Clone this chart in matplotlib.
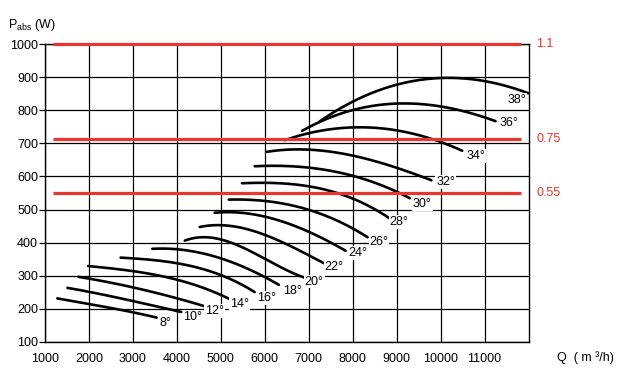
import numpy as np
import matplotlib
matplotlib.use("Agg")
import matplotlib.pyplot as plt

plt.rcParams['font.family'] = ['Liberation Sans', 'DejaVu Sans']
plt.rcParams['mathtext.fontset'] = 'custom'
plt.rcParams['mathtext.rm'] = 'Liberation Sans'
plt.rcParams['mathtext.it'] = 'Liberation Sans'

# blade angle curves: flow Q (m3/h) and absorbed power P (W)
angles = ["8°", "10°", "12°", "14°", "16°", "18°", "20°", "22°", "24°",
          "26°", "28°", "30°", "32°", "34°", "36°", "38°"]
curve_q = [
    [1280, 2000, 3000, 3540],
    [1510, 2000, 3000, 4100],
    [1760, 2000, 3000, 4000, 4670],
    [1980, 3000, 4000, 5000, 5200],
    [2720, 3000, 4000, 5000, 5770],
    [3440, 4000, 5000, 6000, 6320],
    [4180, 4800, 5000, 6000, 6900],
    [4520, 5000, 6000, 7000, 7350],
    [4860, 5000, 6000, 7000, 7840],
    [5180, 6000, 7000, 8000, 8340],
    [5480, 6000, 7000, 8000, 8840],
    [5770, 6000, 7000, 8000, 9000, 9300],
    [6050, 7000, 8000, 9000, 9790],
    [6450, 7000, 8000, 9000, 10000, 10490],
    [6850, 7000, 8000, 9000, 10000, 11000, 11250],
    [7240, 8000, 9000, 10000, 11000, 12000],
]
curve_p = [
    [231, 214, 189, 173],
    [263, 251, 223, 190],
    [297, 290, 265, 231, 206],
    [329, 314, 287, 243, 228],
    [354, 353, 337, 302, 250],
    [381, 380, 352, 296, 272],
    [406, 414, 410, 351, 294],
    [447, 453, 423, 362, 337],
    [489, 493, 478, 433, 375],
    [530, 526, 499, 443, 416],
    [579, 582, 569, 534, 473],
    [630, 633, 628, 599, 559, 531],
    [675, 680, 665, 625, 589],
    [708, 734, 748, 736, 710, 675],
    [738, 749, 801, 821, 811, 781, 766],
    [766, 826, 877, 900, 887, 852],
]
label_q = [3730, 4365, 4857, 5424, 6030, 6620, 7127, 7580, 8110,
           8600, 9055, 9585, 10115, 10795, 11550, 11740]
label_p = [157, 176, 194, 213, 233, 254, 282, 327, 368,
           403, 463, 517, 584, 662, 761, 831]

# motor power limits (kW)
motor_labels = ["1.1", "0.75", "0.55"]
motor_p = [1000, 713, 551]
motor_q = [1190, 11820]

x_ticks = [1000, 2000, 3000, 4000, 5000, 6000, 7000, 8000, 9000, 10000, 11000]
y_ticks = [100, 200, 300, 400, 500, 600, 700, 800, 900, 1000]

fig = plt.figure(figsize=(6.18, 3.75), dpi=100)
ax = fig.add_axes([45/618, 33.3/375, 483.5/618, 297.4/375])
ax.set_xlim(1000, 12000)
ax.set_ylim(100, 1000)

ax.set_xticks(x_ticks)
ax.set_yticks(y_ticks)
ax.grid(True, color='black', linewidth=0.9)
ax.set_axisbelow(True)
for s in ax.spines.values():
    s.set_linewidth(1.0)
    s.set_color('black')
ax.tick_params(axis='y', direction='out', length=4, width=0.9, pad=1, labelsize=9)
ax.tick_params(axis='x', length=0, pad=8, labelsize=9)

red = '#e8352d'
for lab, p in zip(motor_labels, motor_p):
    ax.plot(motor_q, [p, p], color=red, linewidth=2.3, solid_capstyle='butt', zorder=4,
            clip_on=False)
    ax.text(1.016, p, lab, transform=ax.get_yaxis_transform(), color=red,
            fontsize=9, ha='left', va='center')

for q, p in zip(curve_q, curve_p):
    q = np.array(q, float)
    p = np.array(p, float)
    deg = min(3, len(q) - 1)
    coef = np.polyfit(q, p, deg)
    qq = np.linspace(q[0], q[-1], 200)
    ax.plot(qq, np.polyval(coef, qq), color='black', linewidth=1.9,
            solid_capstyle='round', zorder=3)

for lab, q, p in zip(angles, label_q, label_p):
    ax.text(q, p, lab, fontsize=9, ha='center', va='center', zorder=5,
            bbox=dict(facecolor='white', edgecolor='none', pad=0.6))

fig.text(8/618, 1 - 25/375, r'P$_{\rm abs}$ (W)', fontsize=9, ha='left', va='center')
fig.text(557/618, 1 - 358/375, 'Q  ( m \u00b3/h)', fontsize=9, ha='left', va='center')

fig.savefig('out.png', dpi=100)
